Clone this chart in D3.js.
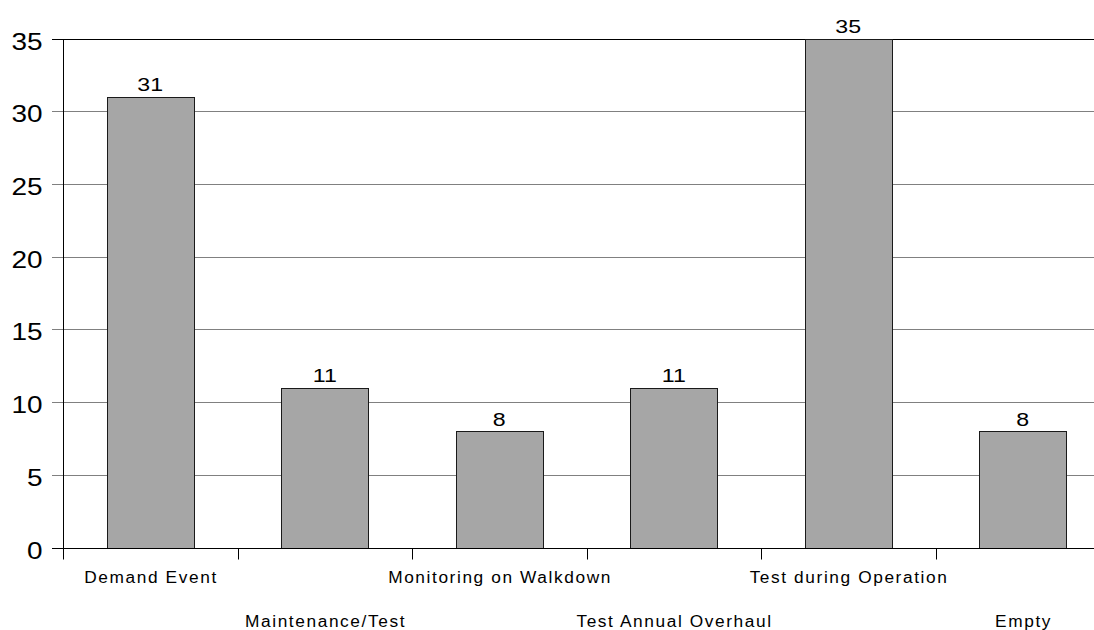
<!DOCTYPE html>
<html><head><meta charset="utf-8">
<script src="https://cdn.jsdelivr.net/npm/d3@7"></script>
<style>body{margin:0;background:#fff}svg{display:block}</style>
</head><body>
<svg id="c" width="1094" height="630"></svg>
<script>
const categories = ["Demand Event","Maintenance/Test","Monitoring on Walkdown","Test Annual Overhaul","Test during Operation","Empty"];
const values = [31, 11, 8, 11, 35, 8];
const yTicks = [0, 5, 10, 15, 20, 25, 30, 35];

const W = 1094, H = 630;
const svg = d3.select("#c");
const font = "'Liberation Sans', Arial, sans-serif";

const x = d3.scaleBand().domain(categories).range([63, 1110]).paddingInner(0.5).paddingOuter(0.25);
const y = d3.scaleLinear().domain([0, 35]).range([547.5, 38.5]);

// gridlines
svg.append("g").selectAll("line").data(yTicks.filter(d => d > 0)).join("line")
  .attr("x1", 52).attr("x2", W)
  .attr("y1", d => Math.round(y(d)) + 0.5).attr("y2", d => Math.round(y(d)) + 0.5)
  .attr("stroke", d => d === 35 ? "#000" : "#808080").attr("stroke-width", 1);

// y tick labels (wide glyphs, as in the reference)
svg.append("g").selectAll("text").data(yTicks).join("text")
  .attr("transform", d => `translate(42.5,${Math.round(y(d)) + 11}) scale(1.2,1)`)
  .attr("text-anchor", "end").attr("font-family", font).attr("font-size", 23.3)
  .attr("fill", "#000").text(d => d);

// bars
svg.append("g").selectAll("rect").data(values).join("rect")
  .attr("x", (d, i) => Math.round(x(categories[i])) + 0.5)
  .attr("y", d => Math.round(y(d)) + 0.5)
  .attr("width", Math.round(x.bandwidth()))
  .attr("height", d => Math.round(y(0)) - Math.round(y(d)))
  .attr("fill", "#a6a6a6").attr("stroke", "#1a1a1a").attr("stroke-width", 1);

// value labels
svg.append("g").selectAll("text").data(values).join("text")
  .attr("transform", (d, i) => `translate(${x(categories[i]) + x.bandwidth() / 2},${y(d) - 5.5}) scale(1.22,1)`)
  .attr("text-anchor", "middle").attr("font-family", font).attr("font-size", 19)
  .attr("fill", "#000").text(d => d);

// x axis line
const y0 = Math.round(y(0)) + 0.5;
svg.append("line").attr("x1", 52).attr("x2", W).attr("y1", y0).attr("y2", y0)
  .attr("stroke", "#000").attr("stroke-width", 1);
// y axis line
svg.append("line").attr("x1", 63.5).attr("x2", 63.5).attr("y1", Math.round(y(35)) + 0.5).attr("y2", y0 + 11)
  .attr("stroke", "#000").attr("stroke-width", 1);
// x ticks at band boundaries
const bounds = d3.range(1, categories.length + 1).map(i => x.range()[0] + i * x.step());
svg.append("g").selectAll("line").data(bounds.filter(b => b < W)).join("line")
  .attr("x1", d => Math.round(d) + 0.5).attr("x2", d => Math.round(d) + 0.5)
  .attr("y1", y0).attr("y2", y0 + 11).attr("stroke", "#000").attr("stroke-width", 1);

// x labels, staggered
svg.append("g").selectAll("text").data(categories).join("text")
  .attr("x", d => x(d) + x.bandwidth() / 2 + 0.8)
  .attr("y", (d, i) => i % 2 === 0 ? 583 : 627)
  .attr("text-anchor", "middle").attr("font-family", font).attr("font-size", 17.3)
  .attr("letter-spacing", "1.6px").attr("fill", "#000").text(d => d);
</script>
</body></html>
